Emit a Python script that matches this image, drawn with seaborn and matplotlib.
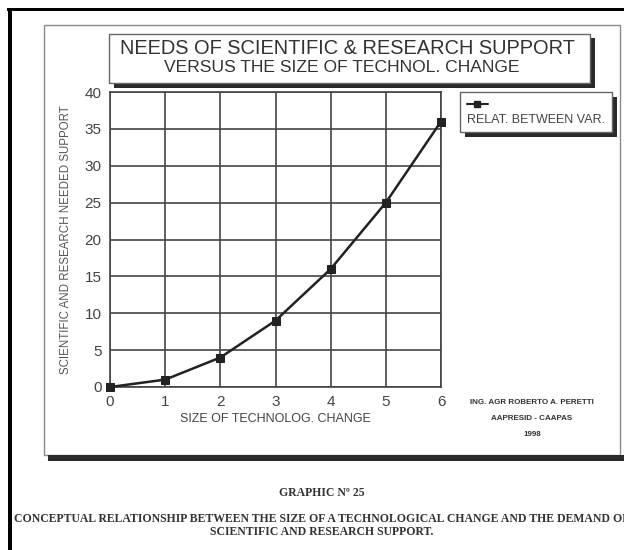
import pandas as pd
import numpy as np
import matplotlib.pyplot as plt
import seaborn as sns
from matplotlib.patches import Rectangle
from matplotlib.lines import Line2D

# values
size_change = [0, 1, 2, 3, 4, 5, 6]
support_needed = [0, 1, 4, 9, 16, 25, 36]
x_ticks = [0, 1, 2, 3, 4, 5, 6]
y_ticks = [0, 5, 10, 15, 20, 25, 30, 35, 40]

title_1 = 'NEEDS OF SCIENTIFIC & RESEARCH SUPPORT'
title_2 = 'VERSUS THE SIZE OF TECHNOL. CHANGE'
x_label = 'SIZE OF TECHNOLOG. CHANGE'
y_label = 'SCIENTIFIC AND RESEARCH NEEDED SUPPORT'
legend_label = 'RELAT. BETWEEN VAR.'
author = ['ING. AGR ROBERTO A. PERETTI', 'AAPRESID - CAAPAS', '1998']
caption = ['GRAPHIC Nº 25',
           'CONCEPTUAL RELATIONSHIP BETWEEN THE SIZE OF A TECHNOLOGICAL CHANGE AND THE DEMAND OF',
           'SCIENTIFIC AND RESEARCH SUPPORT.']

data = pd.DataFrame({'size': size_change, 'support': support_needed})

sns.set_style('white')
plt.rcParams['font.family'] = ['Liberation Sans', 'DejaVu Sans']

W, H = 624, 550
fig = plt.figure(figsize=(W / 100, H / 100), dpi=100)
fig.patch.set_facecolor('white')


def fx(px):
    return px / W


def fy(py):
    return 1 - py / H


def box(x0, y0, x1, y1, **kw):
    fig.patches.append(Rectangle((fx(x0), fy(y1)), fx(x1) - fx(x0), fy(y0) - fy(y1),
                                 transform=fig.transFigure, **kw))


# page frame
box(7, 8, 626, 11, facecolor='black', edgecolor='none')
box(8, 8, 11.5, 552, facecolor='black', edgecolor='none')
# chart panel
box(44, 25, 620, 455, facecolor='none', edgecolor='#8a8a8a', lw=1)
box(48, 455, 626, 461, facecolor='#2a2a2a', edgecolor='none')

# title box with shadow
box(114, 38, 595, 88, facecolor='#2a2a2a', edgecolor='none')
box(109, 34, 590, 83, facecolor='white', edgecolor='#666', lw=1)
fig.text(fx(348), fy(48), title_1, ha='center', va='center', fontsize=14.4, color='#333')
fig.text(fx(342), fy(67.5), title_2, ha='center', va='center', fontsize=12.6, color='#333')

# legend box with shadow
box(465, 97, 617, 137, facecolor='#2a2a2a', edgecolor='none')
box(460, 92, 612, 132, facecolor='white', edgecolor='#666', lw=1)
fig.lines.append(Line2D([fx(467), fx(488)], [fy(104), fy(104)], transform=fig.transFigure,
                        color='#222', lw=1.5))
fig.lines.append(Line2D([fx(477.5)], [fy(104)], transform=fig.transFigure,
                        color='#222', marker='s', markersize=4.5, ls='none'))
fig.text(fx(467), fy(120), legend_label, ha='left', va='center', fontsize=9, color='#444')

# main plot
ax = fig.add_axes([fx(110), fy(387), fx(441) - fx(110), fy(92) - fy(387)])
ax.set_axisbelow(True)
sns.lineplot(data=data, x='size', y='support', ax=ax, color='#222', lw=1.8,
             marker='s', markersize=5.5, markeredgecolor='#222', clip_on=False, zorder=5)
ax.set_xlim(0, 6)
ax.set_ylim(0, 40)
ax.set_xticks(x_ticks)
ax.set_yticks(y_ticks)
ax.grid(True, color='#444', lw=1.2)
for s in ax.spines.values():
    s.set_color('#444')
    s.set_linewidth(1.2)
ax.tick_params(axis='both', direction='out', length=5, width=1.2, color='#444',
               labelsize=11, labelcolor='#444')
ax.tick_params(axis='y', pad=1)
ax.tick_params(axis='x', pad=0.5)
ax.set_xlabel(x_label, fontsize=9, color='#444', labelpad=3)
ax.set_ylabel(y_label, fontsize=8.3, color='#555', labelpad=9)

# author note
for i, line in enumerate(author):
    fig.text(fx(532), fy(403 + 15.5 * i), line, ha='center', va='center', fontsize=5.8,
             fontweight='bold', color='#333')

# caption under the panel
cap_y = [493, 519, 532]
for text, y in zip(caption, cap_y):
    fig.text(fx(322), fy(y), text, ha='center', va='center', fontsize=8.5,
             fontweight='bold', family='Liberation Serif', color='#333')

fig.savefig('out.png', dpi=100)
